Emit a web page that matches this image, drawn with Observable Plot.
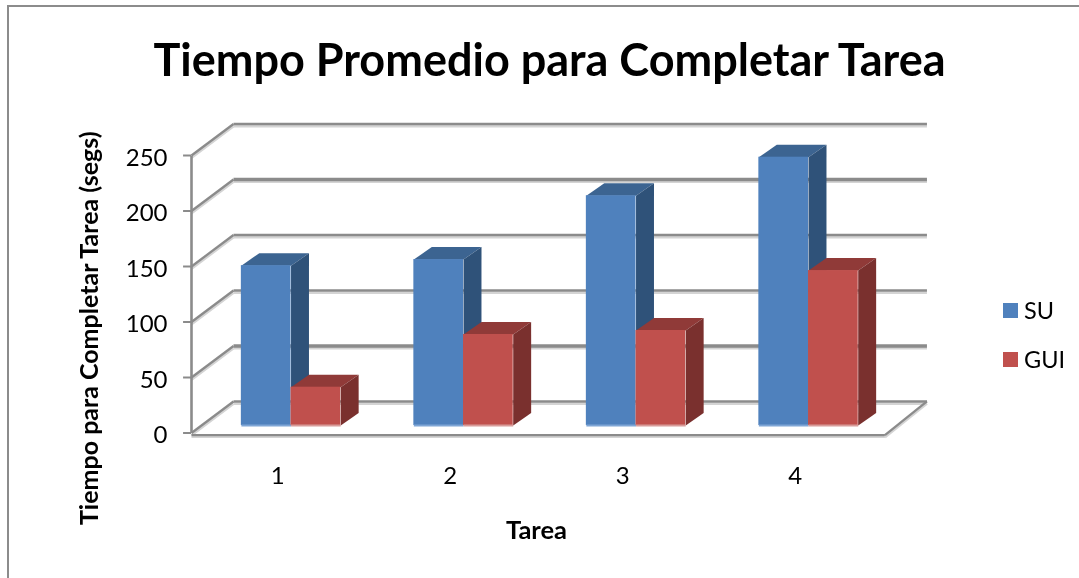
<!DOCTYPE html>
<html><head><meta charset="utf-8">
<script src="https://cdn.jsdelivr.net/npm/d3@7"></script>
<script src="https://cdn.jsdelivr.net/npm/@observablehq/plot@0.6"></script>
<style>
html,body{margin:0;padding:0;background:#fff;width:1079px;height:578px;overflow:hidden}
#chart{position:absolute;left:0;top:0}
#chart svg{display:block;background:transparent;filter:blur(0.5px)}
#border{position:absolute;left:7px;top:5px;right:-5px;bottom:-5px;border-left:2px solid #8c8c8c;border-top:2px solid #8c8c8c}
.lg{position:absolute;left:1003px;font:23.5px Lato,sans-serif;color:#000;line-height:15px;white-space:nowrap;filter:blur(0.3px)}
.lg i{display:inline-block;width:15px;height:15px;margin-right:6px;vertical-align:top}
</style></head><body>
<div id="border"></div>
<div id="chart"></div>
<div class="lg" style="top:303px"><i style="background:#4F81BD"></i>SU</div>
<div class="lg" style="top:352px"><i style="background:#C0504D"></i>GUI</div>
<script>
const tareas = ["1","2","3","4"];
const su = [144, 149.5, 207, 241.7];
const gui = [34.5, 82, 85.6, 139.6];
const valorTicks = [0,50,100,150,200,250];
const titulo = "Tiempo Promedio para Completar Tarea";
const ejeY = "Tiempo para Completar Tarea (segs)";
const ejeX = "Tarea";

// oblique projection, in data units
const wall = {x:0.2435, y:28.4};
const barStart = {x:0.077, y:6.76};
const barDepth = {x:0.104, y:11.26};
const xEnd = 4.02, barW = 0.288;
const gridC = "#8b8b8b", shadowC = "#d4d4d4";

const series = [
  {name:"SU", vals:su, off:-barW, front:"#4F81BD", top:"#3C6491", side:"#2F5279", base:"#7FA6D6"},
  {name:"GUI", vals:gui, off:0, front:"#C0504D", top:"#903A38", side:"#7A302E", base:"#D89C9A"}
];
const bars = series.map(s => s.vals.map((v,i) => {
  const x1 = i + 0.5 + s.off + barStart.x, x2 = x1 + barW;
  return {x1, x2, y1: barStart.y, y2: v + barStart.y, v};
}));
const poly = (b, pts) => b.flatMap((d,i) => pts(d).map(([x,y]) => ({id:i,x,y})));
const topFace = d => [[d.x1,d.y2],[d.x2,d.y2],[d.x2+barDepth.x,d.y2+barDepth.y],[d.x1+barDepth.x,d.y2+barDepth.y]];
const sideFace = d => [[d.x2,d.y1],[d.x2,d.y2],[d.x2+barDepth.x,d.y2+barDepth.y],[d.x2+barDepth.x,d.y1+barDepth.y]];

const weight = v => (v===200||v===50) ? 3.4 : 2.6;
const gridMarks = [
  Plot.link(valorTicks,{x1:wall.x,y1:v=>v+wall.y,x2:xEnd+wall.x,y2:v=>v+wall.y,stroke:shadowC,strokeWidth:2.5,dy:2.2}),
  Plot.link(valorTicks,{x1:0,y1:v=>v,x2:wall.x,y2:v=>v+wall.y,stroke:shadowC,strokeWidth:2.5,dy:2.2}),
  Plot.link(valorTicks,{x1:wall.x,y1:v=>v+wall.y,x2:xEnd+wall.x,y2:v=>v+wall.y,stroke:gridC,strokeWidth:weight}),
  Plot.link(valorTicks,{x1:0,y1:v=>v,x2:wall.x,y2:v=>v+wall.y,stroke:gridC,strokeWidth:2.3}),
  Plot.link([0],{x1:0,y1:0,x2:0,y2:250,stroke:gridC,strokeWidth:2.6}),
  Plot.link([0],{x1:0,y1:-2,x2:xEnd,y2:-2,stroke:shadowC,strokeWidth:2.5,dy:1.5}),
  Plot.link([0],{x1:0,y1:-2,x2:xEnd,y2:-2,stroke:gridC,strokeWidth:2.3}),
  Plot.link([0],{x1:xEnd,y1:-2,x2:xEnd+wall.x,y2:wall.y,stroke:shadowC,strokeWidth:2.5,dy:2}),
  Plot.link([0],{x1:xEnd,y1:-2,x2:xEnd+wall.x,y2:wall.y,stroke:gridC,strokeWidth:2.3}),
  Plot.ruleY(valorTicks,{x1:0,x2:-0.046,stroke:gridC,strokeWidth:2})
];
const barMarks = series.flatMap((s,k) => [
  Plot.line(poly(bars[k],topFace),{x:"x",y:"y",z:"id",fill:s.top,stroke:"none"}),
  Plot.line(poly(bars[k],sideFace),{x:"x",y:"y",z:"id",fill:s.side,stroke:"none"}),
  Plot.rect(bars[k],{x1:"x1",x2:"x2",y1:"y1",y2:"y2",fill:s.front}),
  Plot.link(bars[k],{x1:"x1",x2:"x2",y1:"y1",y2:"y1",stroke:s.base,strokeWidth:2})
]);

const plot = Plot.plot({
  width:1079, height:578,
  marginLeft:191, marginRight:198, marginTop:155, marginBottom:145.5,
  x:{domain:[0,4]}, y:{domain:[0,250]},
  style:{fontFamily:"Lato, sans-serif", background:"transparent"},
  marks:[
    ...gridMarks,
    ...barMarks,
    Plot.axisY({ticks:valorTicks, tickSize:0, tickPadding:24, dy:2.5, fontSize:24, label:null, fill:"#000", tickFormat:d=>d}),
    Plot.axisX({ticks:tareas.map((t,i)=>i+0.5), tickFormat:(d,i)=>tareas[i], tickSize:0, tickPadding:34, fontSize:24, fill:"#000", label:null}),
    Plot.text([ejeX],{text:d=>d,frameAnchor:"bottom",dy:106,fontSize:25.5,fontWeight:700,fill:"#000"}),
    Plot.text([ejeY],{text:d=>d,frameAnchor:"left",textAnchor:"middle",dx:-102,dy:34,rotate:-90,fontSize:25,fontWeight:700,fill:"#000"}),
    Plot.text([titulo],{text:d=>d,frameAnchor:"top",dx:13,dy:-111,fontSize:45,fontWeight:700,fill:"#000"})
  ]
});
document.getElementById("chart").appendChild(plot);
</script>
</body></html>
